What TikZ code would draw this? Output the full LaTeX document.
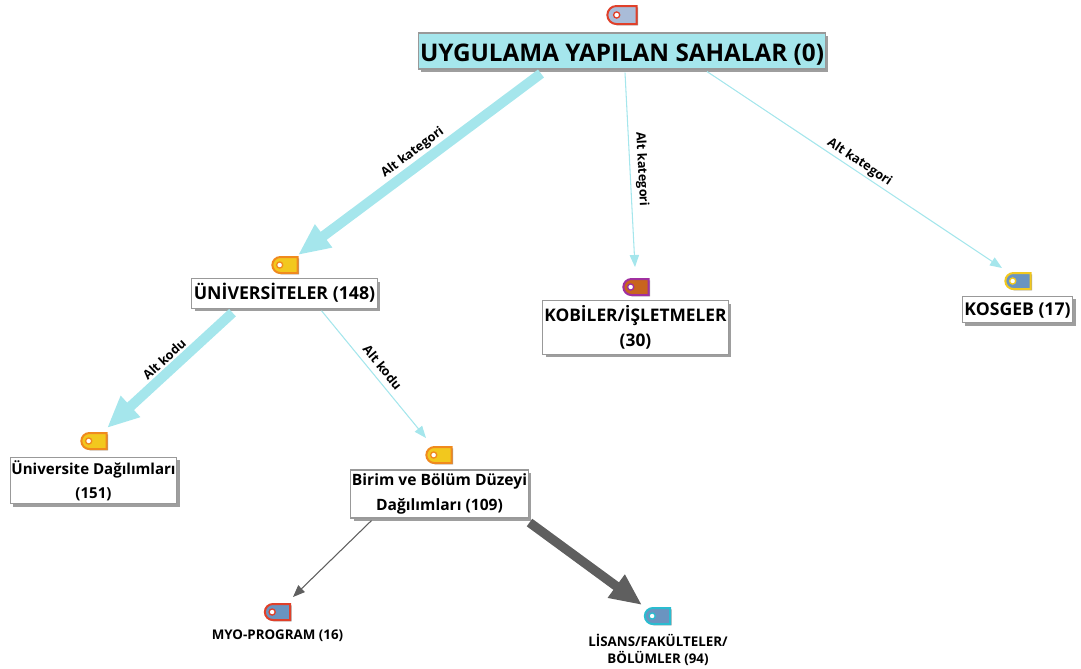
\documentclass[tikz,border=0pt]{standalone}
\usepackage{fontspec}
\setmainfont{Open Sans}
\usetikzlibrary{arrows.meta,calc,shadows,shapes.misc}
\definecolor{kodcyan}{HTML}{A5E6EC}
\definecolor{kodgray}{HTML}{5F5F5F}
\definecolor{tagred}{HTML}{E0402A}
\definecolor{tagorange}{HTML}{F08A1E}
\definecolor{tagyellow}{HTML}{F2C81E}
\definecolor{tagblue}{HTML}{6A94C0}
\definecolor{tagpale}{HTML}{A9BCD8}
\definecolor{tagbrown}{HTML}{C8641E}
\definecolor{tagpurple}{HTML}{A030A0}
\definecolor{tagteal}{HTML}{2ABCD0}
\tikzset{
	softshadow/.style={drop shadow={shadow xshift=#1,shadow yshift=-#1,fill=black!38,opacity=1}},
	kodbox/.style={draw=black!40,line width=.8pt,fill=white,align=center,inner sep=0pt,softshadow=2pt},
	tagnode/.style 2 args={rounded rectangle,rounded rectangle right arc=none,draw=#2,fill=#1,
		line width=1.5pt,minimum width=19pt,minimum height=12pt,inner sep=0pt,softshadow=1pt,
		path picture={\draw[#2,fill=white,line width=1pt] ([xshift=-4pt]path picture bounding box.center) circle (2.3pt);}},
	plainlabel/.style={align=center,inner sep=0pt,font=\fontsize{10}{13}\selectfont\bfseries},
	edgelabel/.style={text=black,font=\fontsize{9.5}{11}\selectfont\bfseries,inner sep=1.5pt},
	thinarrow/.style={-{Triangle[length=9pt,width=7pt]},line width=.8pt},
	thickarrow/.style={-{Triangle[length=24pt,width=20pt]},line width=7.5pt}
}
\begin{document}
\begin{tikzpicture}[x=.75pt,y=-.75pt]
			      \useasboundingbox (0,0) rectangle (1081,668);

			      % tags
			      \node[tagnode={tagpale}{tagred},minimum width=22pt,minimum height=13.5pt] (tagRoot) at (622,15) {};
			      \node[tagnode={tagyellow}{tagorange}] (tagUni) at (285,265) {};
			      \node[tagnode={tagbrown}{tagpurple}] (tagKobi) at (636,287) {};
			      \node[tagnode={tagblue}{tagyellow}] (tagKosgeb) at (1018,281) {};
			      \node[tagnode={tagyellow}{tagorange}] (tagDagilim) at (94,441) {};
			      \node[tagnode={tagyellow}{tagorange}] (tagBirim) at (439,455) {};
			      \node[tagnode={tagblue}{tagred}] (tagMyo) at (277.5,612) {};
			      \node[tagnode={tagblue}{tagteal}] (tagLisans) at (657.5,616) {};

			      % boxes
			      \node[kodbox,fill=kodcyan,minimum width=305pt,minimum height=27pt,text height=19.5pt,text depth=4.3pt,font=\fontsize{18.2}{20}\selectfont\bfseries] (root) at (622,51) {UYGULAMA YAPILAN SAHALAR (0)};
			      \node[kodbox,minimum width=139pt,minimum height=22pt,text height=11.5pt,text depth=3.2pt,font=\fontsize{13.3}{16}\selectfont\bfseries] (uni) at (284.5,293.5) {ÜNİVERSİTELER (148)};
			      \node[kodbox,minimum width=139pt,minimum height=40pt,font=\fontsize{13}{19}\selectfont\bfseries] (kobi) at (635.5,327.5) {KOBİLER/İŞLETMELER\\(30)};
			      \node[kodbox,minimum width=83pt,minimum height=20pt,text height=11.5pt,text depth=3.2pt,font=\fontsize{13.2}{16}\selectfont\bfseries] (kosgeb) at (1017.5,309.5) {KOSGEB (17)};
			      \node[kodbox,minimum width=125pt,minimum height=35pt,font=\fontsize{11.3}{18}\selectfont\bfseries] (dagilim) at (93.5,480.5) {Üniversite Dağılımları\\(151)};
			      \node[kodbox,minimum width=133pt,minimum height=36pt,font=\fontsize{11.7}{18.75}\selectfont\bfseries] (birim) at (439.5,494) {Birim ve Bölüm Düzeyi\\Dağılımları (109)};
			      \node[plainlabel] (myo) at (277.5,636) {MYO-PROGRAM (16)};
			      \node[plainlabel] (lisans) at (658,650) {LİSANS/FAKÜLTELER/\\BÖLÜMLER (94)};

			      % connectors
			      \draw[thickarrow,kodcyan] ($(root.south)+(-81,4)$) -- node[edgelabel,sloped,above,pos=.495] (lblUni) {Alt kategori} ($(tagUni.north)+(13,-1)$);
			      \draw[thinarrow,kodcyan] ($(root.south)+(3,3)$) -- node[edgelabel,sloped,above=2pt,pos=.5] (lblKobi) {Alt kategori} ($(tagKobi.north)+(-1,-11)$);
			      \draw[thinarrow,kodcyan] ($(root.south)+(85,2)$) -- node[edgelabel,sloped,above,pos=.5] (lblKosgeb) {Alt kategori} ($(tagKosgeb.north)+(-16,-4)$);
			      \draw[thickarrow,kodcyan] ($(uni.south)+(-52,4)$) -- node[edgelabel,sloped,above,pos=.48] (lblDagilim) {Alt kodu} ($(tagDagilim.north)+(13,-4)$);
			      \draw[thinarrow,kodcyan] ($(uni.south)+(37,2)$) -- node[edgelabel,sloped,above=3pt,pos=.5] (lblBirim) {Alt kodu} ($(tagBirim.north)+(-13,-8)$);
			      \draw[thinarrow,kodgray] ($(birim.south)+(-68,2)$) -- ($(tagMyo.north)+(15.5,-6)$);
			      \draw[thickarrow,kodgray,line width=7pt] ($(birim.south)+(90,4)$) -- ($(tagLisans.north)+(-15.5,-2)$);
		      \end{tikzpicture}
\end{document}
